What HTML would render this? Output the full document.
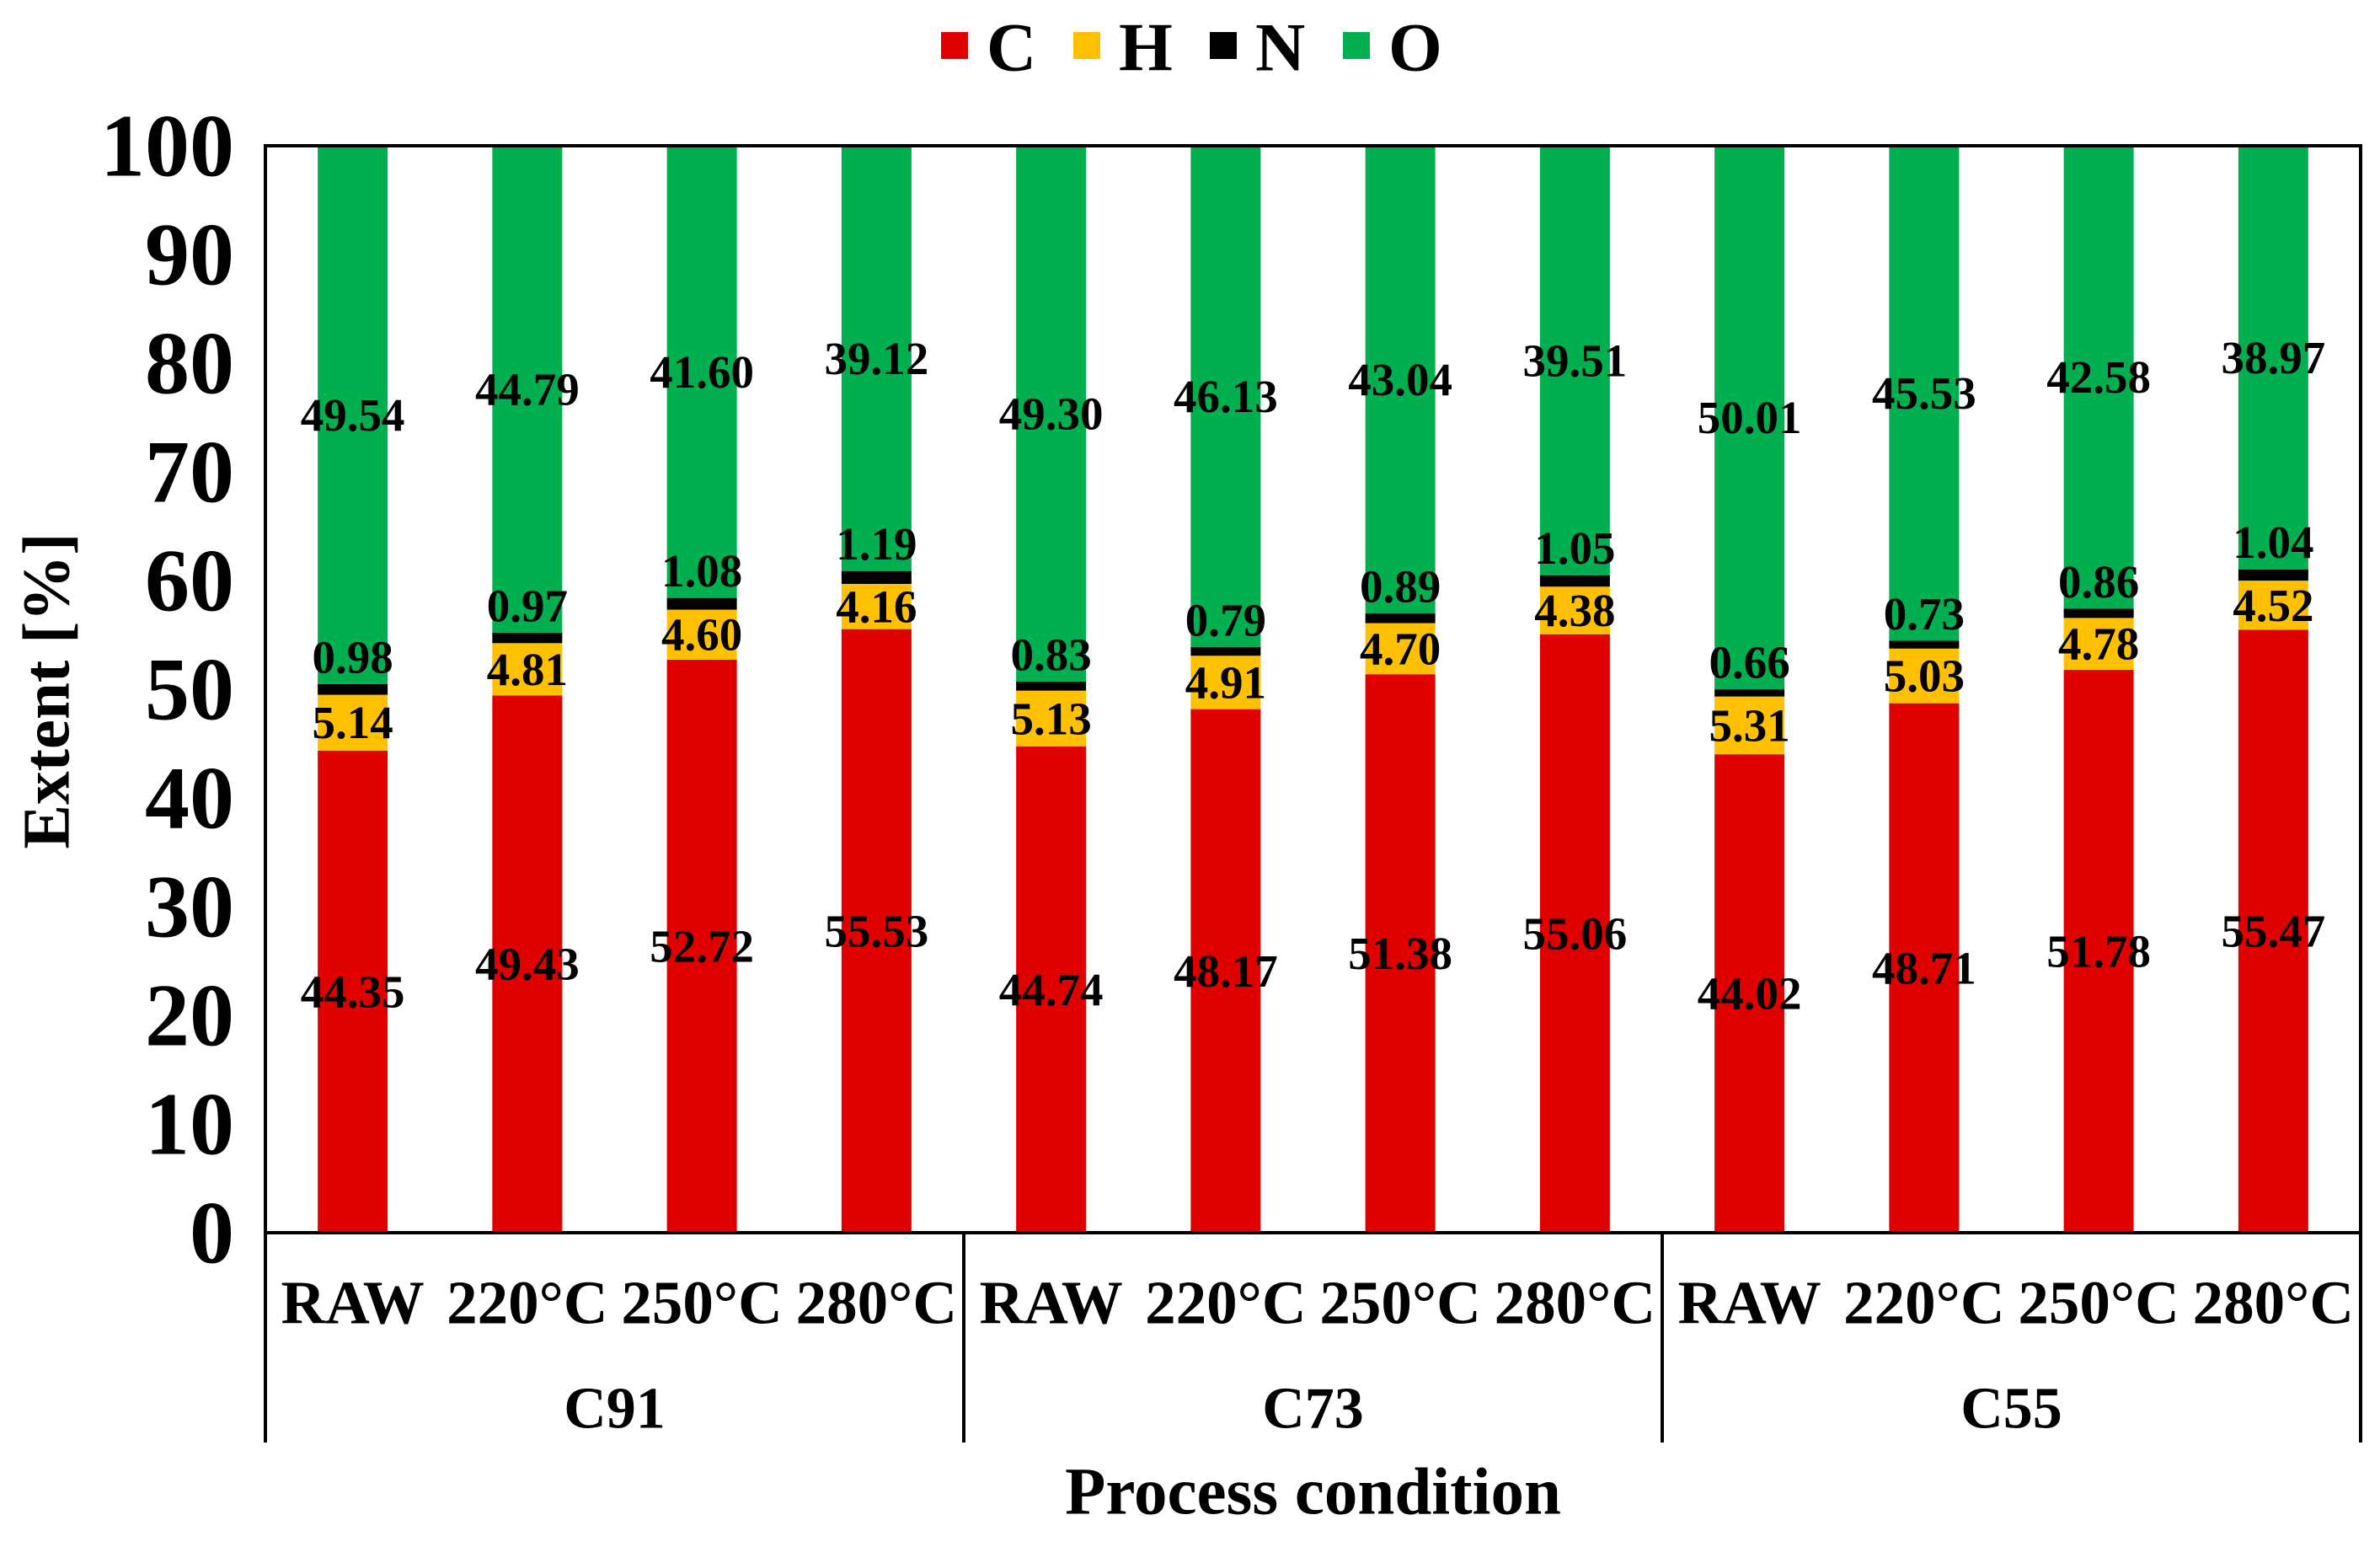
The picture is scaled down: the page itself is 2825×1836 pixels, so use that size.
<!DOCTYPE html>
<html><head><meta charset="utf-8"><style>
html,body{margin:0;padding:0;background:#fff;}
svg text{font-family:"Liberation Serif",serif;font-weight:bold;fill:#000;}
</style></head><body>
<svg id="chart" width="2825" height="1831" viewBox="0 0 2825 1831" xmlns="http://www.w3.org/2000/svg">
<g id="bars"></g>
<g id="labels"></g>
</svg>
<script>
const groups = ["C91","C73","C55"];
const conditions = ["RAW","220°C","250°C","280°C"];
const seriesNames = ["C","H","N","O"];
const colors = ["#E00000","#FFC000","#000000","#00B050"];
const cVals = [44.35,49.43,52.72,55.53,44.74,48.17,51.38,55.06,44.02,48.71,51.78,55.47];
const hVals = [5.14,4.81,4.60,4.16,5.13,4.91,4.70,4.38,5.31,5.03,4.78,4.52];
const nVals = [0.98,0.97,1.08,1.19,0.83,0.79,0.89,1.05,0.66,0.73,0.86,1.04];
const oVals = [49.54,44.79,41.60,39.12,49.30,46.13,43.04,39.51,50.01,45.53,42.58,38.97];
const yTicks = [0,10,20,30,40,50,60,70,80,90,100];

const svg = document.getElementById('chart');
const barsG = document.getElementById('bars');
const labelsG = document.getElementById('labels');
const NS = "http://www.w3.org/2000/svg";
const L=315, R=2802, T=173, B=1463;
const nCat = cVals.length;
const slot = (R-L)/nCat;
const barW = 83;
const y = v => B - (v/100)*(B-T);
const xc = i => L + slot*(i+0.5);
function mk(tag, attrs, parent){const e=document.createElementNS(NS,tag);for(const k in attrs)e.setAttribute(k,attrs[k]);(parent||svg).appendChild(e);return e;}

const series=[cVals,hVals,nVals,oVals];
for(let i=0;i<nCat;i++){
  let base=0;
  series.forEach((arr,s)=>{
    const v=arr[i];
    const r=mk('rect',{x:xc(i)-barW/2,y:y(base+v),width:barW,height:y(base)-y(base+v),fill:colors[s]},barsG);
    
    
    let ly = s===2 ? y(base+v)-32 : y(base+v/2);
    const t=mk('text',{x:xc(i),y:ly,'font-size':55,'text-anchor':'middle','dominant-baseline':'central'},labelsG);
    t.textContent=v.toFixed(2);
    
    
    base+=v;
  });
}
const fr=mk('rect',{x:L,y:T,width:R-L,height:B-T,fill:'none',stroke:'#000','stroke-width':4});


yTicks.forEach(v=>{
  const t=mk('text',{x:278,y:y(v),'font-size':106,'text-anchor':'end','dominant-baseline':'central'});
  t.textContent=v;
  
  
});
for(let i=0;i<nCat;i++){
  const t=mk('text',{x:xc(i),y:1546,'font-size':73,'text-anchor':'middle','dominant-baseline':'central'});
  t.textContent=conditions[i%conditions.length];
  
  
}
for(let g=0;g<=groups.length;g++){
  const x=L+g*slot*conditions.length;
  const ln=mk('line',{x1:x,y1:B,x2:x,y2:1712,stroke:'#000','stroke-width':4});
  
  
}
groups.forEach((gname,g)=>{
  const t=mk('text',{x:L+(g+0.5)*slot*conditions.length,y:1672,'font-size':70,'text-anchor':'middle','dominant-baseline':'central'});
  t.textContent=gname;
  
  
});
const xt=mk('text',{x:(L+R)/2,y:1771,'font-size':79,'text-anchor':'middle','dominant-baseline':'central'});
xt.textContent='Process condition';


const yt=mk('text',{x:56,y:820,'font-size':79,'text-anchor':'middle','dominant-baseline':'central',transform:'rotate(-90 56 820)'});
yt.textContent='Extent [%]';


const legX=[1117,1274,1436,1594];
seriesNames.forEach((n,s)=>{
  const r=mk('rect',{x:legX[s],y:38,width:32,height:32,fill:colors[s]});
  
  
  const t=mk('text',{x:legX[s]+54,y:56,'font-size':82,'dominant-baseline':'central'});
  t.textContent=n;
  
  
});
</script>
</body></html>
